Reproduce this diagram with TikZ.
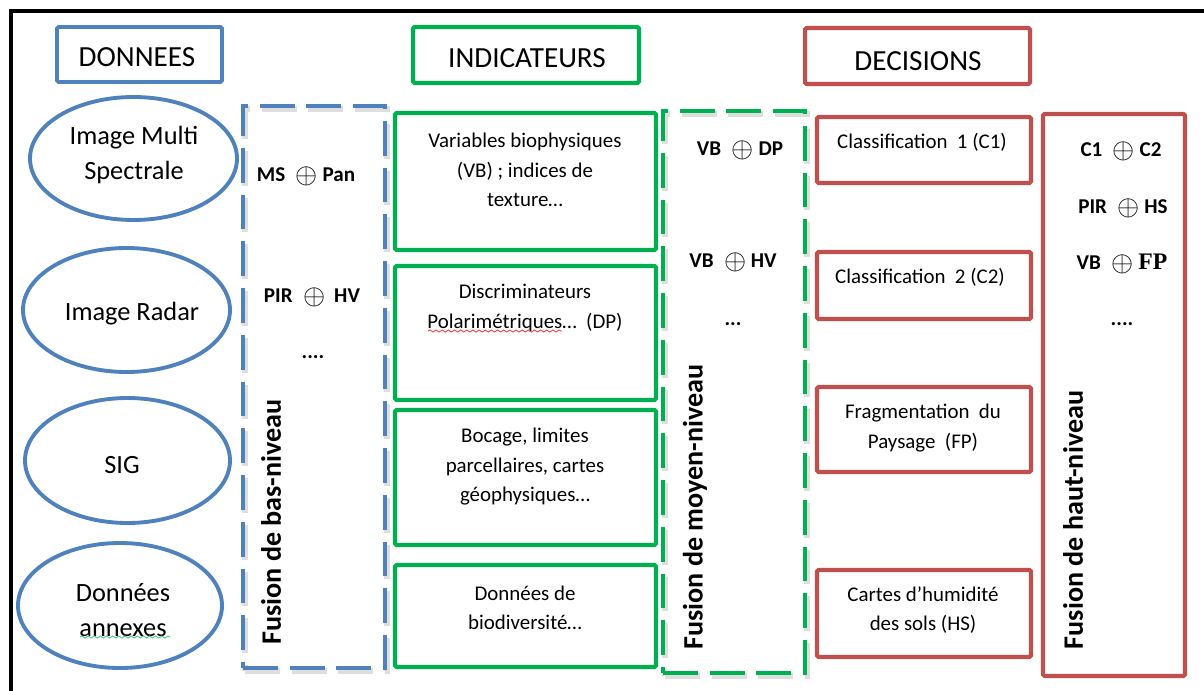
\documentclass[tikz,border=0pt]{standalone}
\usepackage{fontspec}
\setmainfont{Carlito}
\newfontfamily\timesf{Liberation Serif}
\usetikzlibrary{fit,shapes.geometric,decorations.pathmorphing}
\definecolor{ublue}{HTML}{4F81BD}
\definecolor{ugreen}{HTML}{00B050}
\definecolor{ured}{HTML}{C0504D}
\newcommand\opl{\enspace\raisebox{-0.12ex}{\scalebox{1.35}{$\oplus$}}\hspace{0.22em}}
\begin{document}
\begin{tikzpicture}[x=0.02cm,y=-0.02cm,
  frame/.style={draw=black,line width=2.8pt},
  bbox/.style={draw=ublue,line width=2pt,inner sep=0pt,rounded corners=0.8pt},
  gbox/.style={draw=ugreen,line width=2.3pt,inner sep=0pt,rounded corners=0.8pt},
  rbox/.style={draw=ured,line width=2.3pt,inner sep=0pt,rounded corners=0.8pt},
  ell/.style={draw=ublue,line width=2.2pt,ellipse,inner sep=0pt},
  bdash/.style={draw=ublue,line width=2pt,dash pattern=on 19.8pt off 6.8pt,inner sep=0pt},
  gdash/.style={draw=ugreen,line width=2pt,dash pattern=on 19.8pt off 6.8pt,inner sep=0pt},
  shad/.style={draw=black,opacity=0.13,line width=3.2pt,dash pattern=on 19.8pt off 6.8pt,inner sep=0pt},
  ttl/.style={font=\fontsize{16.6}{19.8}\selectfont,align=center,inner sep=0pt},
  big/.style={font=\fontsize{15}{19.8}\selectfont,align=center,inner sep=0pt},
  sm/.style={font=\fontsize{11.9}{16.8}\selectfont,align=center,inner sep=0pt},
  bd/.style={font=\fontsize{12}{14}\selectfont\bfseries,inner sep=0pt},
  rot/.style={font=\fontsize{16}{19}\selectfont\bfseries,rotate=90,inner sep=0pt},
  squig/.style={decorate,decoration={snake,segment length=3.5pt,amplitude=0.6pt},line width=0.5pt}
]
\useasboundingbox (0,0) rectangle (1204,690);
\fill[white] (0,0) rectangle (1204,690);
% outer frame
\coordinate (fa) at (11,692);
\coordinate (fb) at (11,11);
\coordinate (fc) at (1206,11);
\draw[frame] (fa) -- (fb) -- (fc);

% titles
\node[bbox,fit={(57,27) (222,82)}] (tdon) {};
\node[ttl] (tdont) at (137,57) {DONNEES};
\node[gbox,fit={(413,27) (639,83)}] (tind) {};
\node[ttl] (tindt) at (527,58) {INDICATEURS};
\node[rbox,fit={(805,28) (1030,84)}] (tdec) {};
\node[ttl] (tdect) at (918,61) {DECISIONS};

% ellipses
\node[ell,minimum width=207*0.02cm,minimum height=123*0.02cm] (e1) at (133.5,158.5) {};
\node[big] (e1t) at (134,155) {Image Multi\\Spectrale};
\node[ell,minimum width=207*0.02cm,minimum height=124*0.02cm] (e2) at (126.5,310) {};
\node[big] (e2t) at (132,314) {Image Radar};
\node[ell,minimum width=205*0.02cm,minimum height=125*0.02cm] (e3) at (127.5,460.5) {};
\node[big] (e3t) at (122,465) {SIG};
\node[ell,minimum width=204*0.02cm,minimum height=125*0.02cm] (e4) at (120,605.5) {};
\node[big] (e4t) at (123,610) {Données\\annexes};
\coordinate (sq1a) at (80,637);
\coordinate (sq1b) at (170,637);
\draw[squig,draw=ugreen!70] (sq1a) -- (sq1b);

% low-level fusion
\node[shad,fit={(245,109) (387,671)}] (lowsh) {};
\node[bdash,fit={(243,106) (385,668)}] (low) {};
\node[bd] (l1) at (306,176) {MS\opl Pan};
\node[bd] (l2) at (312,297) {PIR\opl\hspace{0.2em}HV};
\node[bd,anchor=base] (l3) at (313,358) {....};
\node[rot] (lowt) at (271,522) {Fusion de bas-niveau};

% indicators
\node[gbox,fit={(395,113) (656,250)}] (g1) {};
\node[sm] (g1t) at (525,170) {Variables biophysiques\\(VB) ; indices de\\texture…};
\node[gbox,fit={(395,266) (656,400)}] (g2) {};
\node[sm] (g2t) at (525,308) {Discriminateurs\\Polarimétriques…\ \ (DP)};
\coordinate (sq2a) at (428,331);
\coordinate (sq2b) at (562,331);
\draw[squig,draw=red!75] (sq2a) -- (sq2b);
\node[gbox,fit={(395,410) (656,545)}] (g3) {};
\node[sm] (g3t) at (525,467) {Bocage, limites\\parcellaires, cartes\\géophysiques…};
\node[gbox,fit={(395,565) (656,667)}] (g4) {};
\node[sm] (g4t) at (525,608) {Données de\\biodiversité…};

% mid-level fusion
\node[shad,fit={(665,114) (807,676)}] (midsh) {};
\node[gdash,fit={(663,111) (805,673)}] (mid) {};
\node[bd] (m1) at (740,150) {VB\opl DP};
\node[bd] (m2) at (733,262) {VB\opl HV};
\node[bd,anchor=base] (m3) at (733,325) {...};
\node[rot] (midt) at (695,507) {Fusion de moyen-niveau};

% decisions
\node[rbox,fit={(817,117) (1031,183)}] (r1) {};
\node[sm] (r1t) at (922,142) {Classification\ \ 1 (C1)};
\node[rbox,fit={(817,252) (1031,319)}] (r2) {};
\node[sm] (r2t) at (920,277) {Classification\ \ 2 (C2)};
\node[rbox,fit={(817,387) (1031,472)}] (r3) {};
\node[sm] (r3t) at (923,428) {Fragmentation\ \ du\\Paysage\ \ (FP)};
\node[rbox,fit={(817,570) (1031,657)}] (r4) {};
\node[sm] (r4t) at (923,610) {Cartes d’humidité\\des sols (HS)};

% high-level fusion
\node[rbox,fit={(1043,114) (1185,676)}] (high) {};
\node[bd] (h1) at (1121,151) {C1\opl C2};
\node[bd] (h2) at (1123,208) {PIR\opl HS};
\node[bd] (h3) at (1122,264) {VB\opl{\timesf\bfseries\fontsize{13.5}{14}\selectfont FP}};
\node[bd,anchor=base] (h4) at (1122,325) {....};
\node[rot] (hight) at (1073,520) {Fusion de haut-niveau};
\end{tikzpicture}
\end{document}
